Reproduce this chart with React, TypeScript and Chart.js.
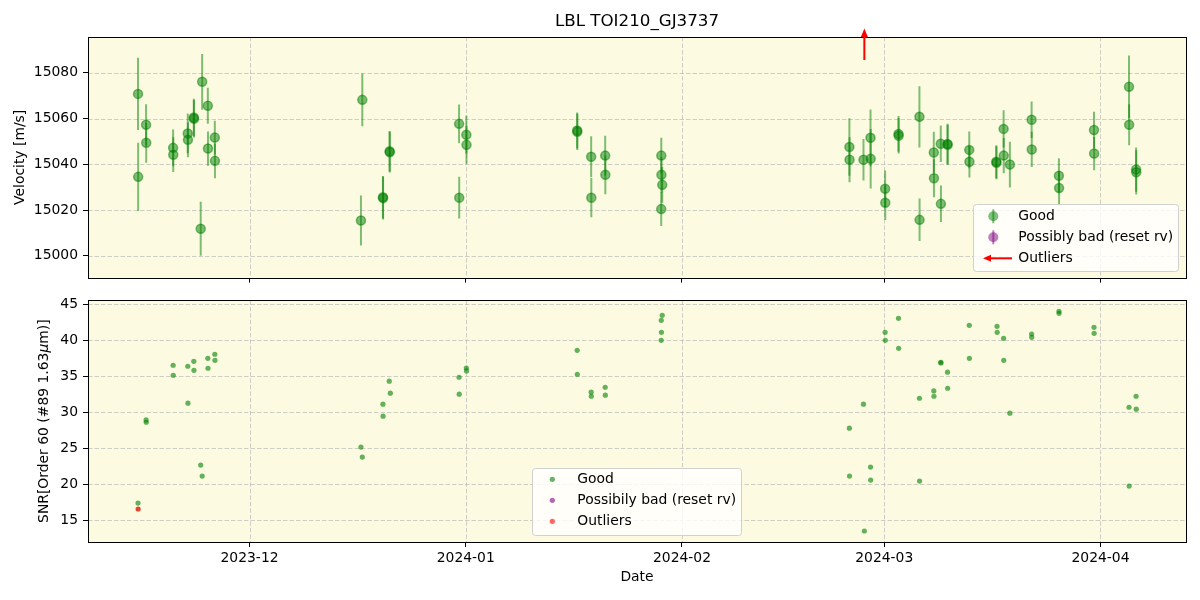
import React, { useEffect, useRef } from "react";
import { Chart, registerables } from "chart.js";
Chart.register(...registerables);

// ---------- data ----------
const rvDates = [
  "2023-11-15T00:15:00Z", "2023-11-15T00:45:00Z",
  "2023-11-16T04:00:00Z", "2023-11-16T04:30:00Z",
  "2023-11-20T01:00:00Z", "2023-11-20T01:30:00Z",
  "2023-11-22T03:30:00Z", "2023-11-22T04:00:00Z",
  "2023-11-23T00:15:00Z", "2023-11-23T00:45:00Z",
  "2023-11-24T00:00:00Z", "2023-11-24T05:00:00Z",
  "2023-11-25T00:30:00Z", "2023-11-25T01:00:00Z",
  "2023-11-26T00:30:00Z", "2023-11-26T01:00:00Z",
  "2023-12-16T23:20:00Z", "2023-12-17T04:00:00Z",
  "2023-12-20T03:00:00Z", "2023-12-20T03:30:00Z",
  "2023-12-21T02:00:00Z", "2023-12-21T02:30:00Z",
  "2023-12-31T01:00:00Z", "2023-12-31T01:30:00Z",
  "2024-01-01T02:00:00Z", "2024-01-01T02:30:00Z",
  "2024-01-16T23:20:00Z", "2024-01-16T23:50:00Z",
  "2024-01-18T23:30:00Z", "2024-01-19T00:00:00Z",
  "2024-01-20T23:45:00Z", "2024-01-21T00:15:00Z",
  "2024-01-29T00:45:00Z", "2024-01-29T01:15:00Z", "2024-01-29T04:00:00Z", "2024-01-29T00:30:00Z",
  "2024-02-25T00:00:00Z", "2024-02-25T00:30:00Z",
  "2024-02-27T00:30:00Z",
  "2024-02-28T00:45:00Z", "2024-02-28T01:15:00Z",
  "2024-03-01T03:00:00Z", "2024-03-01T03:30:00Z",
  "2024-03-03T01:00:00Z", "2024-03-03T01:30:00Z",
  "2024-03-06T01:00:00Z", "2024-03-06T01:30:00Z",
  "2024-03-08T02:30:00Z", "2024-03-08T03:00:00Z",
  "2024-03-09T02:30:00Z", "2024-03-09T03:00:00Z",
  "2024-03-10T01:40:00Z", "2024-03-10T02:10:00Z",
  "2024-03-13T04:30:00Z", "2024-03-13T05:00:00Z",
  "2024-03-17T01:30:00Z", "2024-03-17T02:00:00Z",
  "2024-03-18T02:40:00Z", "2024-03-18T03:10:00Z",
  "2024-03-19T00:15:00Z",
  "2024-03-22T03:00:00Z", "2024-03-22T03:30:00Z",
  "2024-03-26T01:00:00Z", "2024-03-26T01:30:00Z",
  "2024-03-31T01:40:00Z", "2024-03-31T02:10:00Z",
  "2024-04-05T02:10:00Z", "2024-04-05T02:40:00Z",
  "2024-04-06T02:30:00Z", "2024-04-06T03:00:00Z",
];
const rvValues = [
  15070.8, 15034.5,
  15057.3, 15049.4,
  15047.2, 15044.2,
  15053.5, 15050.7,
  15060.5, 15059.9,
  15011.8, 15076.1,
  15065.6, 15046.9,
  15051.7, 15041.5,
  15015.4, 15068.2,
  15025.6, 15025.2,
  15045.7, 15045.3,
  15057.7, 15025.4,
  15052.9, 15048.5,
  15054.8, 15054.2,
  15043.3, 15025.4,
  15043.8, 15035.4,
  15043.8, 15035.4, 15031.0, 15020.4,
  15047.6, 15042.0,
  15042.0,
  15051.6, 15042.4,
  15029.3, 15023.2,
  15053.3, 15052.5,
  15060.8, 15015.7,
  15045.2, 15033.9,
  15049.0, 15022.7,
  15048.9, 15048.5,
  15046.3, 15041.1,
  15041.1, 15040.7,
  15055.5, 15043.8,
  15039.9,
  15059.5, 15046.5,
  15035.0, 15029.6,
  15055.0, 15044.7,
  15073.9, 15057.3,
  15037.7, 15036.5,
];
const rvErrors = [
  15.8, 14.9,
  9.0, 8.7,
  8.0, 7.6,
  8.7, 7.6,
  8.2, 8.2,
  11.8, 12.2,
  7.9, 7.5,
  7.4, 7.6,
  10.9, 11.5,
  9.3, 9.3,
  8.9, 8.9,
  8.5, 9.1,
  8.3, 8.3,
  7.9, 7.9,
  9.0, 8.6,
  8.7, 8.5,
  7.8, 7.8, 7.8, 7.4,
  12.6, 9.8,
  9.1,
  12.4, 13.0,
  8.0, 7.6,
  7.8, 7.8,
  13.4, 9.3,
  9.0, 8.3,
  8.0, 8.0,
  8.8, 8.8,
  8.0, 6.9,
  7.2, 7.2,
  8.1, 7.7,
  10.0,
  8.0, 7.7,
  7.6, 7.5,
  8.0, 7.3,
  13.7, 9.0,
  9.7, 9.7,
];
const rvOutlierDates = ["2024-02-27T03:30:00Z"];

const snrDates = [
  "2023-11-15T00:15:00Z",
  "2023-11-16T04:00:00Z", "2023-11-16T04:30:00Z",
  "2023-11-20T01:00:00Z", "2023-11-20T01:30:00Z",
  "2023-11-22T03:30:00Z", "2023-11-22T04:00:00Z",
  "2023-11-23T00:15:00Z", "2023-11-23T00:45:00Z",
  "2023-11-24T00:00:00Z", "2023-11-24T05:00:00Z",
  "2023-11-25T00:30:00Z", "2023-11-25T01:00:00Z",
  "2023-11-26T00:30:00Z", "2023-11-26T01:00:00Z",
  "2023-12-16T23:20:00Z", "2023-12-17T04:00:00Z",
  "2023-12-20T03:00:00Z", "2023-12-20T03:30:00Z",
  "2023-12-21T00:40:00Z", "2023-12-21T04:20:00Z",
  "2023-12-31T01:00:00Z", "2023-12-31T01:30:00Z",
  "2024-01-01T02:00:00Z", "2024-01-01T02:30:00Z",
  "2024-01-16T23:20:00Z", "2024-01-16T23:50:00Z",
  "2024-01-18T23:30:00Z", "2024-01-19T00:00:00Z",
  "2024-01-20T23:45:00Z", "2024-01-21T00:15:00Z",
  "2024-01-29T04:00:00Z", "2024-01-29T00:45:00Z", "2024-01-29T01:15:00Z", "2024-01-29T00:30:00Z",
  "2024-02-25T00:00:00Z", "2024-02-25T00:30:00Z",
  "2024-02-27T00:30:00Z", "2024-02-27T03:30:00Z",
  "2024-02-28T00:45:00Z", "2024-02-28T01:15:00Z",
  "2024-03-01T03:00:00Z", "2024-03-01T03:30:00Z",
  "2024-03-03T01:00:00Z", "2024-03-03T01:30:00Z",
  "2024-03-06T01:00:00Z", "2024-03-06T01:30:00Z",
  "2024-03-08T02:30:00Z", "2024-03-08T03:00:00Z",
  "2024-03-09T02:30:00Z", "2024-03-09T03:00:00Z",
  "2024-03-10T01:40:00Z", "2024-03-10T02:10:00Z",
  "2024-03-13T04:30:00Z", "2024-03-13T05:00:00Z",
  "2024-03-17T04:00:00Z", "2024-03-17T04:30:00Z",
  "2024-03-18T02:40:00Z", "2024-03-18T03:10:00Z",
  "2024-03-19T00:15:00Z",
  "2024-03-22T03:00:00Z", "2024-03-22T03:30:00Z",
  "2024-03-26T01:00:00Z", "2024-03-26T01:30:00Z",
  "2024-03-31T01:40:00Z", "2024-03-31T02:10:00Z",
  "2024-04-05T02:10:00Z", "2024-04-05T02:40:00Z",
  "2024-04-06T02:30:00Z", "2024-04-06T03:00:00Z",
];
const snrValues = [
  17.36,
  28.93, 28.6,
  36.53, 35.14,
  36.39, 31.25,
  37.08, 35.83,
  22.64, 21.11,
  37.5, 36.11,
  38.06, 37.22,
  25.14, 23.75,
  31.11, 29.44,
  34.31, 32.64,
  34.86, 32.5,
  36.15, 35.74,
  38.61, 35.28,
  32.78, 32.22,
  33.47, 32.36,
  43.47, 42.78, 41.11, 40.0,
  27.78, 21.11,
  31.11, 13.47,
  22.36, 20.56,
  41.11, 40.0,
  43.06, 38.89,
  31.94, 20.42,
  32.96, 32.22,
  36.95, 36.85,
  35.56, 33.33,
  42.08, 37.5,
  41.94, 41.11,
  40.28, 37.22,
  29.86,
  40.88, 40.42,
  44.03, 43.75,
  41.81, 40.97,
  30.69, 19.72,
  32.22, 30.42,
];
const snrOutlierDates = ["2023-11-15T00:45:00Z"];
const snrOutlierValues = [16.53];

const monthTicks = ["2023-12-01T00:00:00Z", "2024-01-01T00:00:00Z", "2024-02-01T00:00:00Z", "2024-03-01T00:00:00Z", "2024-04-01T00:00:00Z"];
const monthLabels = ["2023-12", "2024-01", "2024-02", "2024-03", "2024-04"];
const rvTicks = [15000, 15020, 15040, 15060, 15080];
const snrTicks = [15, 20, 25, 30, 35, 40, 45];
const xRange = ["2023-11-07T20:10:00Z", "2024-04-13T06:15:00Z"];
const rvRange = [14990.4, 15095.7];
const snrRange = [11.94, 45.56];

// ---------- styling ----------
const FONT = '"DejaVu Sans", sans-serif';
const FS = 13.9;
const BG = "#fcfbe2";
const GRID = "rgba(150,150,160,0.45)";
const TOP_H = 291; // height of the upper canvas
const BOT_TOP = 287; // page offset of the lower canvas
const toMs = (s: string) => Date.parse(s);
const monthMs = monthTicks.map(toMs);

function baseScales(yRange: number[], yTicks: number[], showX: boolean, xHeight: number) {
  return {
    x: {
      type: "linear",
      min: toMs(xRange[0]),
      max: toMs(xRange[1]),
      afterBuildTicks: (s: any) => {
        s.ticks = monthMs.map((v) => ({ value: v }));
      },
      afterFit: (s: any) => {
        s.height = xHeight;
      },
      ticks: {
        display: showX,
        autoSkip: false,
        maxRotation: 0,
        padding: 3,
        color: "#000",
        font: { family: FONT, size: FS },
        callback: (v: number) => {
          const i = monthMs.indexOf(v);
          return i >= 0 ? monthLabels[i] : "";
        },
      },
      grid: { display: true, drawOnChartArea: false, drawTicks: true, tickLength: 5, tickColor: "#000", tickWidth: 1 },
      border: { display: false },
    },
    y: {
      type: "linear",
      min: yRange[0],
      max: yRange[1],
      afterBuildTicks: (s: any) => {
        s.ticks = yTicks.map((v) => ({ value: v }));
      },
      afterFit: (s: any) => {
        s.width = 88;
      },
      ticks: {
        autoSkip: false,
        padding: 5,
        color: "#000",
        font: { family: FONT, size: FS },
        callback: (v: number) => String(v),
      },
      grid: { display: true, drawOnChartArea: false, drawTicks: true, tickLength: 5, tickColor: "#000", tickWidth: 1 },
      border: { display: false },
    },
  };
}

const framePlugin = {
  id: "frame",
  beforeDraw(chart: any) {
    const { ctx, chartArea: a } = chart;
    ctx.save();
    ctx.fillStyle = "#ffffff";
    ctx.fillRect(0, 0, chart.width, chart.height);
    ctx.fillStyle = BG;
    ctx.fillRect(a.left, a.top, a.right - a.left, a.bottom - a.top);
    ctx.restore();
  },
  beforeDatasetsDraw(chart: any) {
    const { ctx, chartArea: a, scales } = chart;
    ctx.save();
    ctx.strokeStyle = GRID;
    ctx.lineWidth = 1;
    ctx.setLineDash([4.5, 2]);
    for (const t of scales.x.ticks) {
      const px = Math.round(scales.x.getPixelForValue(t.value)) + 0.5;
      ctx.beginPath();
      ctx.moveTo(px, a.top);
      ctx.lineTo(px, a.bottom);
      ctx.stroke();
    }
    for (const t of scales.y.ticks) {
      const py = Math.round(scales.y.getPixelForValue(t.value)) + 0.5;
      ctx.beginPath();
      ctx.moveTo(a.left, py);
      ctx.lineTo(a.right, py);
      ctx.stroke();
    }
    ctx.restore();
  },
  afterDatasetsDraw(chart: any) {
    const { ctx, chartArea: a } = chart;
    ctx.save();
    ctx.strokeStyle = "#000";
    ctx.lineWidth = 1;
    ctx.strokeRect(Math.round(a.left) + 0.5, Math.round(a.top) + 0.5, Math.round(a.right - a.left), Math.round(a.bottom - a.top));
    ctx.restore();
  },
};

function roundRect(ctx: CanvasRenderingContext2D, x: number, y: number, w: number, h: number, r: number) {
  ctx.beginPath();
  ctx.moveTo(x + r, y);
  ctx.lineTo(x + w - r, y);
  ctx.quadraticCurveTo(x + w, y, x + w, y + r);
  ctx.lineTo(x + w, y + h - r);
  ctx.quadraticCurveTo(x + w, y + h, x + w - r, y + h);
  ctx.lineTo(x + r, y + h);
  ctx.quadraticCurveTo(x, y + h, x, y + h - r);
  ctx.lineTo(x, y + r);
  ctx.quadraticCurveTo(x, y, x + r, y);
  ctx.closePath();
}

function legendBox(ctx: CanvasRenderingContext2D, x: number, y: number, w: number, h: number) {
  roundRect(ctx, x + 0.5, y + 0.5, w, h, 3);
  ctx.fillStyle = "rgba(255,255,255,0.8)";
  ctx.fill();
  ctx.strokeStyle = "#d0d0d0";
  ctx.lineWidth = 1;
  ctx.stroke();
}

function dot(ctx: CanvasRenderingContext2D, x: number, y: number, r: number, fill: string) {
  ctx.beginPath();
  ctx.arc(x, y, r, 0, Math.PI * 2);
  ctx.fillStyle = fill;
  ctx.fill();
}

const topPlugin = {
  id: "topExtras",
  beforeDatasetsDraw(chart: any) {
    // error bars
    const { ctx, chartArea: a, scales } = chart;
    ctx.save();
    ctx.beginPath();
    ctx.rect(a.left, a.top, a.right - a.left, a.bottom - a.top);
    ctx.clip();
    ctx.strokeStyle = "rgba(0,128,0,0.5)";
    ctx.lineWidth = 2;
    for (let i = 0; i < rvDates.length; i++) {
      const px = scales.x.getPixelForValue(toMs(rvDates[i]));
      const y1 = scales.y.getPixelForValue(rvValues[i] + rvErrors[i]);
      const y2 = scales.y.getPixelForValue(rvValues[i] - rvErrors[i]);
      ctx.beginPath();
      ctx.moveTo(px, y1);
      ctx.lineTo(px, y2);
      ctx.stroke();
    }
    ctx.restore();
  },
  afterDraw(chart: any) {
    const { ctx, chartArea: a, scales } = chart;
    ctx.save();
    // title
    ctx.fillStyle = "#000";
    ctx.font = `16.7px ${FONT}`;
    ctx.textAlign = "center";
    ctx.textBaseline = "middle";
    ctx.fillText("LBL TOI210_GJ3737", (a.left + a.right) / 2, 22);
    // y title
    ctx.save();
    ctx.translate(20.5, (a.top + a.bottom) / 2);
    ctx.rotate(-Math.PI / 2);
    ctx.font = `${FS}px ${FONT}`;
    ctx.fillText("Velocity [m/s]", 0, 0);
    ctx.restore();
    // outlier arrows (above the axes)
    ctx.strokeStyle = "red";
    ctx.fillStyle = "red";
    ctx.lineWidth = 2;
    for (const d of rvOutlierDates) {
      const px = scales.x.getPixelForValue(toMs(d));
      ctx.beginPath();
      ctx.moveTo(px, a.top + 23);
      ctx.lineTo(px, a.top - 1);
      ctx.stroke();
      ctx.beginPath();
      ctx.moveTo(px, a.top - 8.5);
      ctx.lineTo(px - 3.5, a.top);
      ctx.lineTo(px + 3.5, a.top);
      ctx.closePath();
      ctx.fill();
    }
    // legend
    legendBox(ctx, 973, 204, 205, 67);
    const mx = 993.3;
    const rows = [216.3, 237.3, 258.3];
    ctx.lineWidth = 2;
    ctx.strokeStyle = "rgba(0,128,0,0.5)";
    ctx.beginPath();
    ctx.moveTo(mx, rows[0] - 7);
    ctx.lineTo(mx, rows[0] + 7);
    ctx.stroke();
    dot(ctx, mx, rows[0], 5, "rgba(0,128,0,0.5)");
    ctx.strokeStyle = "rgba(128,0,128,0.5)";
    ctx.beginPath();
    ctx.moveTo(mx, rows[1] - 7);
    ctx.lineTo(mx, rows[1] + 7);
    ctx.stroke();
    dot(ctx, mx, rows[1], 5, "rgba(128,0,128,0.5)");
    ctx.strokeStyle = "red";
    ctx.fillStyle = "red";
    ctx.beginPath();
    ctx.moveTo(1012, rows[2]);
    ctx.lineTo(988, rows[2]);
    ctx.stroke();
    ctx.beginPath();
    ctx.moveTo(983, rows[2]);
    ctx.lineTo(991, rows[2] - 3.5);
    ctx.lineTo(991, rows[2] + 3.5);
    ctx.closePath();
    ctx.fill();
    ctx.fillStyle = "#000";
    ctx.font = `${FS}px ${FONT}`;
    ctx.textAlign = "left";
    ctx.textBaseline = "middle";
    ctx.fillText("Good", 1018.3, rows[0]);
    ctx.fillText("Possibly bad (reset rv)", 1018.3, rows[1]);
    ctx.fillText("Outliers", 1018.3, rows[2]);
    ctx.restore();
  },
};

const bottomPlugin = {
  id: "bottomExtras",
  afterDraw(chart: any) {
    const { ctx, chartArea: a } = chart;
    ctx.save();
    ctx.fillStyle = "#000";
    ctx.font = `${FS}px ${FONT}`;
    ctx.textAlign = "center";
    ctx.textBaseline = "middle";
    ctx.fillText("Date", (a.left + a.right) / 2, 577.5 - BOT_TOP);
    // y title with italic mu
    const p1 = "SNR[Order 60 (#89 1.63";
    const p2 = "\u03bc";
    const p3 = "m)]";
    ctx.font = `${FS}px ${FONT}`;
    const w1 = ctx.measureText(p1).width;
    const w3 = ctx.measureText(p3).width;
    ctx.font = `italic ${FS}px ${FONT}`;
    const w2 = ctx.measureText(p2).width;
    const tot = w1 + w2 + w3;
    ctx.translate(44.5, (a.top + a.bottom) / 2);
    ctx.rotate(-Math.PI / 2);
    ctx.textAlign = "left";
    ctx.font = `${FS}px ${FONT}`;
    ctx.fillText(p1, -tot / 2, 0);
    ctx.font = `italic ${FS}px ${FONT}`;
    ctx.fillText(p2, -tot / 2 + w1, 0);
    ctx.font = `${FS}px ${FONT}`;
    ctx.fillText(p3, -tot / 2 + w1 + w2, 0);
    ctx.restore();

    ctx.save();
    legendBox(ctx, 532, 468 - BOT_TOP, 209, 67);
    const mx = 552.3;
    const rows = [479.3 - BOT_TOP, 500.3 - BOT_TOP, 521.3 - BOT_TOP];
    dot(ctx, mx, rows[0], 2.6, "rgba(0,128,0,0.6)");
    dot(ctx, mx, rows[1], 2.6, "rgba(128,0,128,0.6)");
    dot(ctx, mx, rows[2], 2.6, "rgba(255,0,0,0.6)");
    ctx.fillStyle = "#000";
    ctx.font = `${FS}px ${FONT}`;
    ctx.textAlign = "left";
    ctx.textBaseline = "middle";
    ctx.fillText("Good", 577.3, rows[0]);
    ctx.fillText("Possibily bad (reset rv)", 577.3, rows[1]);
    ctx.fillText("Outliers", 577.3, rows[2]);
    ctx.restore();
  },
};

export default function App() {
  const topRef = useRef<HTMLCanvasElement>(null);
  const botRef = useRef<HTMLCanvasElement>(null);

  useEffect(() => {
    const common = {
      responsive: false,
      animation: false,
      events: [],
      plugins: { legend: { display: false }, tooltip: { enabled: false }, title: { display: false } },
    };
    const c1 = new Chart(topRef.current as HTMLCanvasElement, {
      type: "scatter",
      data: {
        datasets: [
          {
            label: "Good",
            data: rvDates.map((d, i) => ({ x: toMs(d), y: rvValues[i] })),
            pointRadius: 4.5,
            pointBackgroundColor: "rgba(0,128,0,0.5)",
            pointBorderColor: "rgba(0,128,0,0.5)",
            pointBorderWidth: 1.5,
          },
        ],
      },
      options: {
        ...common,
        layout: { padding: { top: 37, right: 14, left: 0, bottom: 0 } },
        scales: baseScales(rvRange, rvTicks, false, 9),
      } as any,
      plugins: [framePlugin, topPlugin],
    });
    const c2 = new Chart(botRef.current as HTMLCanvasElement, {
      type: "scatter",
      data: {
        datasets: [
          {
            label: "Good",
            data: snrDates.map((d, i) => ({ x: toMs(d), y: snrValues[i] })),
            pointRadius: 2.6,
            pointBackgroundColor: "rgba(0,128,0,0.6)",
            pointBorderWidth: 0,
          },
          {
            label: "Outliers",
            data: snrOutlierDates.map((d, i) => ({ x: toMs(d), y: snrOutlierValues[i] })),
            pointRadius: 2.6,
            pointBackgroundColor: "rgba(215,40,20,0.85)",
            pointBorderWidth: 0,
          },
        ],
      },
      options: {
        ...common,
        layout: { padding: { top: 10, right: 14, left: 0, bottom: 0 } },
        scales: baseScales(snrRange, snrTicks, true, 58),
      } as any,
      plugins: [framePlugin, bottomPlugin],
    });
    return () => {
      c1.destroy();
      c2.destroy();
    };
  }, []);

  return (
    <div style={{ position: "fixed", left: 0, top: 0, width: 1200, height: 600, background: "#fff" }}>
      <canvas ref={topRef} width={1200} height={TOP_H} style={{ position: "absolute", left: 0, top: 0, display: "block" }} />
      <canvas ref={botRef} width={1200} height={600 - BOT_TOP} style={{ position: "absolute", left: 0, top: BOT_TOP, display: "block" }} />
    </div>
  );
}
